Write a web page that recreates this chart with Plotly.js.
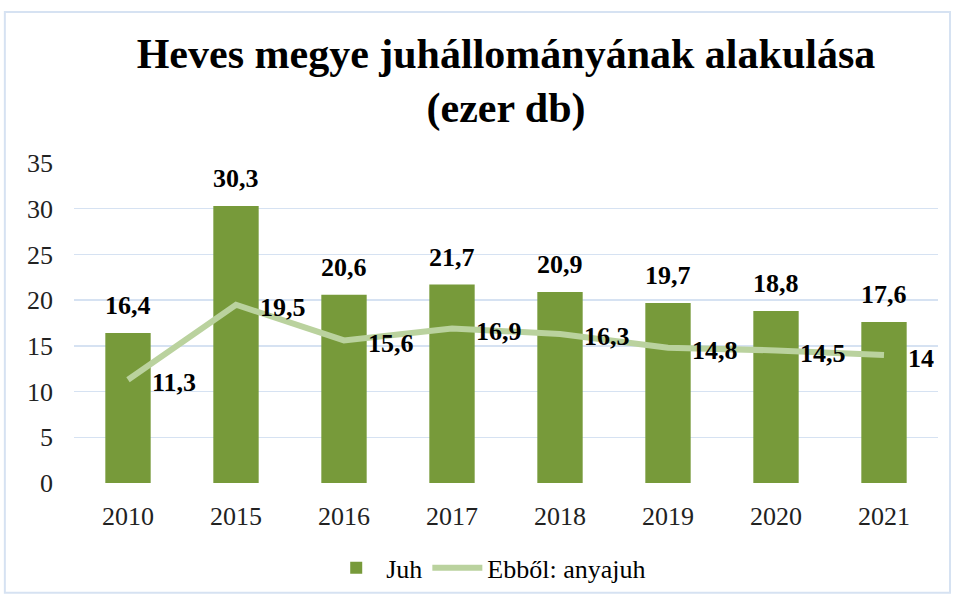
<!DOCTYPE html>
<html><head><meta charset="utf-8">
<script src="https://cdn.plot.ly/plotly-3.0.1.min.js"></script>
<style>html,body{margin:0;padding:0;background:#fff}#c{width:956px;height:603px}</style>
</head><body><div id="c"></div>
<script>
const years = ['2010','2015','2016','2017','2018','2019','2020','2021'];
const juh = [16.4, 30.3, 20.6, 21.7, 20.9, 19.7, 18.8, 17.6];
const anyajuh = [11.3, 19.5, 15.6, 16.9, 16.3, 14.8, 14.5, 14];
const yTicks = [0,5,10,15,20,25,30,35];

const fmt = v => String(v).replace('.', ',');
const serif = 'Liberation Serif, Times New Roman, serif';

const traces = [
  {type:'bar', name:'Juh', x:years, y:juh,
   marker:{color:'#779a3a', line:{width:0}}, hoverinfo:'skip'},
  {type:'scatter', mode:'lines', name:'Ebből: anyajuh', x:years, y:anyajuh,
   line:{color:'#bad29e', width:6}, hoverinfo:'skip'}
];

const annotations = [];
years.forEach((yr,i)=>{
  annotations.push({x:i, y:juh[i], xref:'x', yref:'y', text:'<b>'+fmt(juh[i])+'</b>',
    showarrow:false, yanchor:'bottom', yshift:11,
    font:{family:serif, size:26, color:'#000'}});
  annotations.push({x:i, y:anyajuh[i], xref:'x', yref:'y', text:'<b>'+fmt(anyajuh[i])+'</b>',
    showarrow:false, xanchor:'left', xshift:22, yshift:-3,
    font:{family:serif, size:26, color:'#000'}});
});

const layout = {
  width:956, height:603,
  margin:{l:74, r:18, t:163, b:116},
  paper_bgcolor:'#fff', plot_bgcolor:'#fff',
  title:{text:'<b>Heves megye juhállományának alakulása<br>(ezer db)</b>',
    x:0.5, xref:'paper', xanchor:'center', yref:'container', y:0.888, yanchor:'middle',
    font:{family:serif, size:42, color:'#000'}},
  bargap:0.58,
  xaxis:{type:'category', showgrid:false, zeroline:false, showline:false,
    ticks:'', ticklabelstandoff:15, tickfont:{family:serif, size:26, color:'#222'}},
  yaxis:{range:[0,35], tickvals:yTicks, showgrid:true, gridcolor:'#d6e2f2', gridwidth:1.5,
    zeroline:false, showline:false, ticks:'', ticklabelstandoff:20,
    tickfont:{family:serif, size:26, color:'#222'}},
  showlegend:true,
  legend:{orientation:'h', x:0.48, xanchor:'center', y:-0.265, yanchor:'middle',
    font:{family:serif, size:26, color:'#000'}, traceorder:'normal', itemwidth:50},
  annotations:annotations,
  shapes:[{type:'rect', xref:'paper', yref:'paper', x0:-69/862, x1:1+12/862, y0:-111/324, y1:1+153/324,
    line:{color:'#d6e2f2', width:2}, fillcolor:'rgba(0,0,0,0)', layer:'below'}]
};

Plotly.newPlot('c', traces, layout, {displayModeBar:false, staticPlot:true});
</script></body></html>
